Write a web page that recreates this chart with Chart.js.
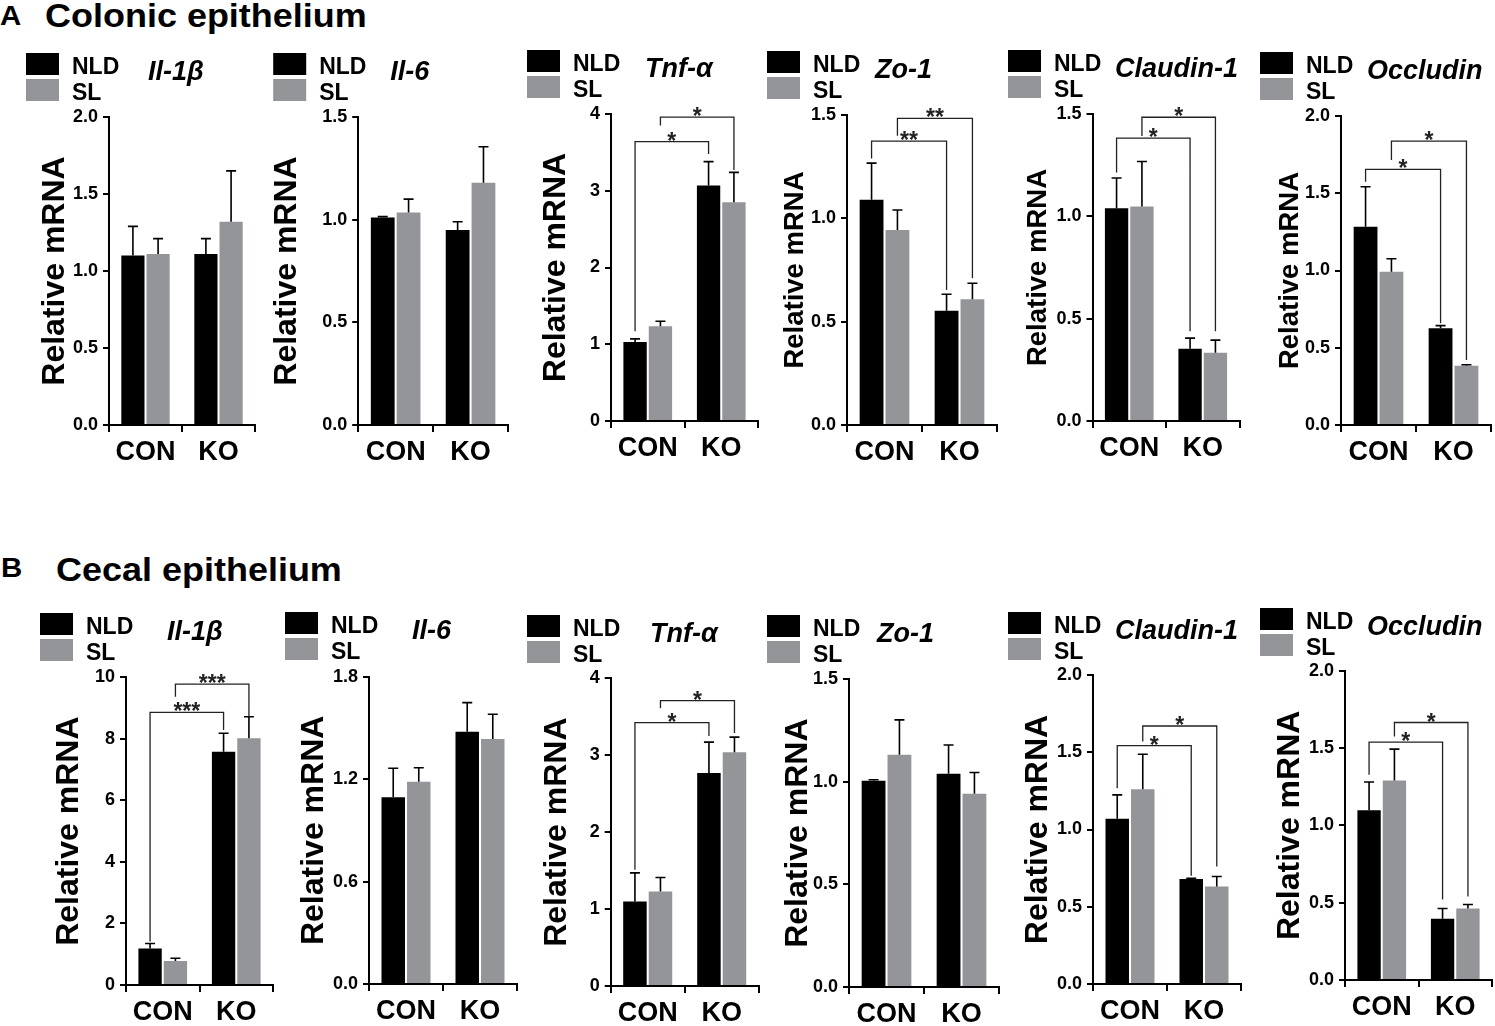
<!DOCTYPE html>
<html>
<head>
<meta charset="utf-8">
<script src="https://cdn.jsdelivr.net/npm/chart.js@4.4.0/dist/chart.umd.min.js"></script>
<style>
  body { margin: 0; background: #fff; width: 1495px; height: 1026px; position: relative; overflow: hidden;
         font-family: "Liberation Sans", Arial, sans-serif; }
  canvas { position: absolute; }
  .hd { position: absolute; font-weight: bold; color: #000; white-space: nowrap; line-height: 1;
        transform: scaleX(1.09); transform-origin: left top; }
</style>
</head>
<body>
<div class="hd" style="left:0px;top:3px;font-size:27px">A</div>
<div class="hd" style="left:45px;top:-1px;font-size:33px">Colonic epithelium</div>
<div class="hd" style="left:1px;top:555px;font-size:27px">B</div>
<div class="hd" style="left:56px;top:553px;font-size:33px">Cecal epithelium</div>
<script>
const categories = ["CON", "KO"];
const groups = ["NLD", "SL"];
const genes = ["Il-1β", "Il-6", "Tnf-α", "Zo-1", "Claudin-1", "Occludin"];

// A - colonic epithelium (mean, and SD above the mean)
const colonNLD   = [[1.10, 1.11], [1.01, 0.95], [1.03, 3.07], [1.09, 0.553], [1.04, 0.353], [1.283, 0.626]];
const colonNLDsd = [[0.19, 0.10], [0.005, 0.04], [0.04, 0.31], [0.177, 0.08], [0.147, 0.052], [0.259, 0.017]];
const colonSL    = [[1.11, 1.32], [1.035, 1.18], [1.235, 2.85], [0.943, 0.608], [1.048, 0.333], [0.992, 0.384]];
const colonSLsd  = [[0.10, 0.33], [0.065, 0.175], [0.065, 0.39], [0.097, 0.078], [0.22, 0.062], [0.084, 0.006]];
const colonYMax  = [2, 1.5, 4, 1.5, 1.5, 2];
const colonYStep = [0.5, 0.5, 1, 0.5, 0.5, 0.5];

// B - cecal epithelium
const cecalNLD   = [[1.19, 7.58], [1.094, 1.478], [1.10, 2.77], [1.005, 1.04], [1.07, 0.679], [1.097, 0.396]];
const cecalNLDsd = [[0.16, 0.60], [0.17, 0.17], [0.37, 0.40], [0.005, 0.14], [0.154, 0.005], [0.183, 0.066]];
const cecalSL    = [[0.78, 8.02], [1.185, 1.435], [1.23, 3.04], [1.132, 0.942], [1.26, 0.631], [1.29, 0.462]];
const cecalSLsd  = [[0.09, 0.70], [0.082, 0.145], [0.18, 0.195], [0.17, 0.104], [0.227, 0.065], [0.203, 0.026]];
const cecalYMax  = [10, 1.8, 4, 1.5, 2, 2];
const cecalYStep = [2, 0.6, 1, 0.5, 0.5, 0.5];

// significance brackets: [dataset A, category A, dataset B, category B, bar level, left leg end, right leg end, label]
const colonStars = [
  [],
  [],
  [[0, 0, 0, 1, 3.64, 1.17, 3.48, "*"], [1, 0, 1, 1, 3.96, 3.85, 3.27, "*"]],
  [[0, 0, 0, 1, 1.374, 1.29, 0.653, "**"], [1, 0, 1, 1, 1.484, 1.40, 0.71, "**"]],
  [[0, 0, 0, 1, 1.382, 1.214, 0.439, "*"], [1, 0, 1, 1, 1.484, 1.393, 0.439, "*"]],
  [[0, 0, 0, 1, 1.655, 1.575, 0.658, "*"], [1, 0, 1, 1, 1.838, 1.715, 0.42, "*"]]
];
const cecalStars = [
  [[0, 0, 0, 1, 8.86, 1.41, 8.29, "***"], [1, 0, 1, 1, 9.78, 9.37, 8.72, "***"]],
  [],
  [[0, 0, 0, 1, 3.425, 1.51, 3.25, "*"], [1, 0, 1, 1, 3.71, 3.61, 3.29, "*"]],
  [],
  [[0, 0, 0, 1, 1.543, 1.267, 0.70, "*"], [1, 0, 1, 1, 1.67, 1.57, 0.76, "*"]],
  [[0, 0, 0, 1, 1.538, 1.327, 0.52, "*"], [1, 0, 1, 1, 1.665, 1.574, 0.54, "*"]]
];

// page placement of each panel (plot area, axis title, legend)
const colonLayout = [
  { left: 109, w: 146, top: 117, bot: 425, tx: 55, ts: 32, lx: 26, ly: 53, gx: 148 },
  { left: 358, w: 150, top: 117, bot: 425, tx: 287, ts: 32, lx: 273, ly: 53, gx: 390 },
  { left: 611, w: 147, top: 114, bot: 421.7, tx: 556, ts: 32, lx: 527, ly: 50, gx: 645 },
  { left: 847, w: 150, top: 115, bot: 425, tx: 795, ts: 27.5, lx: 767, ly: 51, gx: 875 },
  { left: 1092.5, w: 147, top: 114, bot: 421.7, tx: 1038, ts: 27.5, lx: 1008, ly: 50, gx: 1115 },
  { left: 1341, w: 150, top: 116, bot: 425, tx: 1290, ts: 27.5, lx: 1260, ly: 52, gx: 1367 }
];
const cecalLayout = [
  { left: 126, w: 147, top: 677.3, bot: 985, tx: 69, ts: 32, lx: 40, ly: 613, gx: 167 },
  { left: 369, w: 148, top: 676.7, bot: 984, tx: 314, ts: 32, lx: 285, ly: 612, gx: 412 },
  { left: 610.7, w: 148, top: 678.3, bot: 986.7, tx: 557, ts: 32, lx: 527, ly: 615, gx: 650 },
  { left: 849, w: 150, top: 679.3, bot: 987.7, tx: 798, ts: 32, lx: 767, ly: 615, gx: 877 },
  { left: 1093, w: 148, top: 675, bot: 984.3, tx: 1038, ts: 32, lx: 1008, ly: 612, gx: 1115 },
  { left: 1345, w: 147, top: 670.7, bot: 980.7, tx: 1290, ts: 32, lx: 1260, ly: 608, gx: 1367 }
];

const FONT = '"Liberation Sans", Arial, sans-serif';
const BLACK = "#000000";
const GREY = "#939598";

// error bars, brackets, legend and gene name
const extras = {
  id: "extras",
  afterDatasetsDraw(chart, args, o) {
    const ctx = chart.ctx;
    const y = chart.scales.y;
    ctx.save();
    ctx.strokeStyle = "#000";
    ctx.lineWidth = 1.6;
    chart.data.datasets.forEach((ds, di) => {
      chart.getDatasetMeta(di).data.forEach((bar, i) => {
        const y0 = y.getPixelForValue(ds.data[i]);
        const y1 = y.getPixelForValue(ds.data[i] + ds.sd[i]);
        const cw = 5;
        ctx.beginPath();
        ctx.moveTo(bar.x, y0);
        ctx.lineTo(bar.x, y1);
        ctx.moveTo(bar.x - cw, y1);
        ctx.lineTo(bar.x + cw, y1);
        ctx.stroke();
      });
    });

    ctx.lineWidth = 1.3;
    ctx.strokeStyle = "#222";
    ctx.fillStyle = "#222";
    ctx.font = "bold 23px " + FONT;
    ctx.textAlign = "center";
    ctx.textBaseline = "alphabetic";
    o.stars.forEach(b => {
      const xa = chart.getDatasetMeta(b[0]).data[b[1]].x;
      const xb = chart.getDatasetMeta(b[2]).data[b[3]].x;
      const yl = y.getPixelForValue(b[4]);
      ctx.beginPath();
      ctx.moveTo(xa, y.getPixelForValue(b[5]));
      ctx.lineTo(xa, yl);
      ctx.lineTo(xb, yl);
      ctx.lineTo(xb, y.getPixelForValue(b[6]));
      ctx.stroke();
      ctx.fillText(b[7], (xa + xb) / 2, yl + 7);
    });
    ctx.restore();
  },
  afterDraw(chart, args, o) {
    const ctx = chart.ctx;
    ctx.save();
    ctx.textAlign = "left";
    ctx.textBaseline = "alphabetic";
    chart.data.datasets.forEach((ds, i) => {
      const bx = o.lx - o.ox, by = o.ly - o.oy + i * 26;
      ctx.fillStyle = ds.backgroundColor;
      ctx.fillRect(bx, by, 33, 22);
      ctx.fillStyle = "#000";
      ctx.font = "bold 23px " + FONT;
      ctx.fillText(ds.label, bx + 46, by + 21);
    });
    ctx.font = "italic bold 27px " + FONT;
    ctx.fillText(o.gene, o.gx - o.ox, o.ly - o.oy + 27);
    ctx.restore();
  }
};

function makePanel(lay, gene, nld, nldSd, sl, slSd, yMax, yStep, stars) {
  const half = lay.ts * 0.6;
  const L = Math.min(lay.lx, lay.tx - half) - 4;
  const T = lay.ly - 8;
  const R = Math.min(1495, Math.max(lay.left + lay.w + 8, lay.gx + 135));
  const W = R - L;
  const H = lay.bot - T + 50;
  const padLeft = lay.tx - half - L;
  const yWidth = lay.left - L - padLeft;

  const canvas = document.createElement("canvas");
  canvas.width = W;
  canvas.height = H;
  canvas.style.left = L + "px";
  canvas.style.top = T + "px";
  document.body.appendChild(canvas);

  const intTicks = yStep >= 1;
  new Chart(canvas, {
    type: "bar",
    data: {
      labels: categories,
      datasets: [
        { label: groups[0], data: nld, sd: nldSd, backgroundColor: BLACK },
        { label: groups[1], data: sl, sd: slSd, backgroundColor: GREY }
      ]
    },
    options: {
      responsive: false,
      animation: false,
      events: [],
      categoryPercentage: 0.69,
      barPercentage: 0.92,
      layout: { padding: { left: padLeft, top: lay.top - T, right: R - (lay.left + lay.w), bottom: 0 } },
      plugins: {
        legend: { display: false },
        tooltip: { enabled: false },
        extras: { stars, gene, lx: lay.lx, ly: lay.ly, gx: lay.gx, ox: L, oy: T }
      },
      scales: {
        x: {
          offset: true,
          grid: { display: true, drawOnChartArea: false, drawTicks: true, tickLength: 7, color: "#000", lineWidth: 2 },
          border: { display: true, color: "#000", width: 2 },
          ticks: { color: "#000", padding: 4, font: { family: FONT, size: 27, weight: "bold" }, maxRotation: 0 },
          afterFit: s => { s.height = 50; }
        },
        y: {
          min: 0,
          max: yMax,
          grid: { display: true, drawOnChartArea: false, drawTicks: true, tickLength: 6, color: "#000", lineWidth: 2 },
          border: { display: true, color: "#000", width: 2 },
          ticks: {
            stepSize: yStep,
            color: "#000",
            padding: 5,
            font: { family: FONT, size: 18, weight: "bold" },
            callback: v => intTicks ? String(Math.round(v)) : Number(v).toFixed(1)
          },
          title: {
            display: true,
            text: "Relative mRNA",
            color: "#000",
            padding: 0,
            font: { family: FONT, size: lay.ts, weight: "bold", lineHeight: 1.2 }
          },
          afterFit: s => { s.width = yWidth; }
        }
      }
    },
    plugins: [extras]
  });
}

colonLayout.forEach((lay, i) =>
  makePanel(lay, genes[i], colonNLD[i], colonNLDsd[i], colonSL[i], colonSLsd[i], colonYMax[i], colonYStep[i], colonStars[i]));
cecalLayout.forEach((lay, i) =>
  makePanel(lay, genes[i], cecalNLD[i], cecalNLDsd[i], cecalSL[i], cecalSLsd[i], cecalYMax[i], cecalYStep[i], cecalStars[i]));
</script>
</body>
</html>
